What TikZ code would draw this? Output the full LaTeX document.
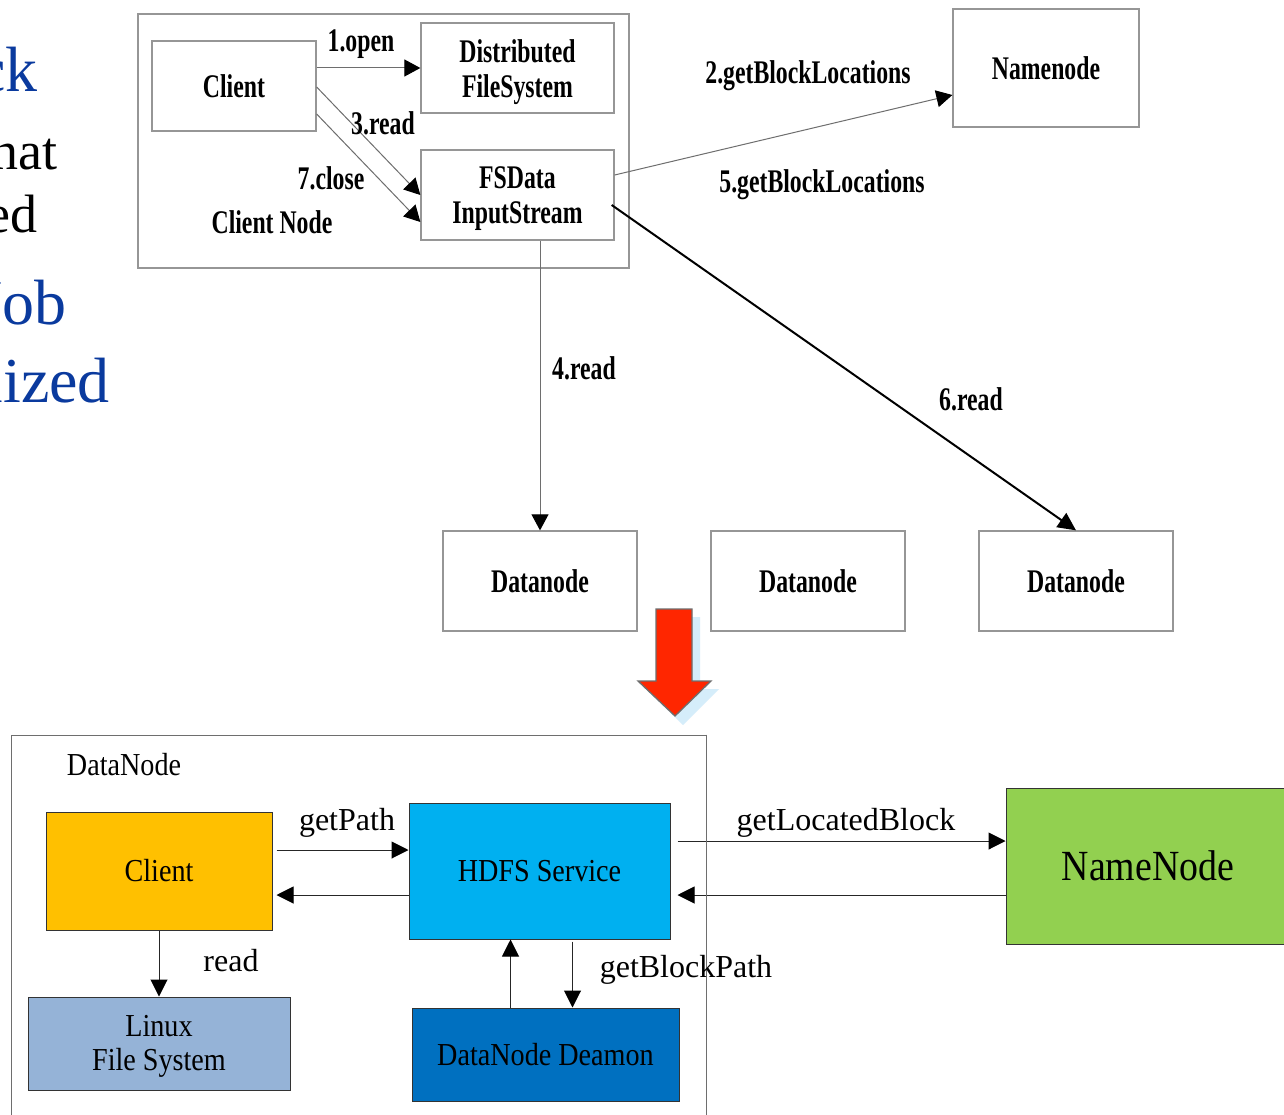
\documentclass[tikz,border=0pt]{standalone}
\usepackage{fontspec}
\setmainfont{Liberation Serif}
\newfontfamily\tfont[FakeStretch=0.72]{Liberation Serif}
\newfontfamily\bfont[FakeStretch=0.88]{Liberation Serif}
\usetikzlibrary{arrows.meta}
\definecolor{slideblue}{RGB}{10,58,158}
\definecolor{boxgray}{RGB}{150,150,150}
\definecolor{linegray}{RGB}{110,110,110}
\definecolor{cyell}{HTML}{FFC000}
\definecolor{chdfs}{HTML}{00B0F0}
\definecolor{clinux}{HTML}{95B3D7}
\definecolor{cdeamon}{HTML}{0070C0}
\definecolor{cname}{HTML}{92D050}
\definecolor{cred}{HTML}{FF2600}
\definecolor{cshadow}{HTML}{D5EDFA}
\tikzset{
  topbox/.style={draw=boxgray, line width=1.3pt, inner sep=0pt, align=center,
    font=\tfont\bfseries\fontsize{33}{35}\selectfont},
  tlbl/.style={inner sep=0pt, align=center, font=\tfont\bfseries\fontsize{33}{35}\selectfont},
  tarr/.style={draw=linegray, line width=1pt, -{Triangle[length=16pt,width=17pt,color=black]}},
  botbox/.style={draw=black!80, line width=1pt, inner sep=0pt, align=center,
    font=\bfont\fontsize{32}{34}\selectfont},
  blbl/.style={inner sep=0pt, align=center, font=\fontsize{32}{34}\selectfont},
  barr/.style={draw=black!85, line width=1pt, -{Triangle[length=17pt,width=17pt,color=black]}},
  slide/.style={inner sep=0pt, anchor=base east, font=\fontsize{64}{70}\selectfont},
  slideb/.style={inner sep=0pt, anchor=base east, font=\fontsize{54}{60}\selectfont}
}
\begin{document}
\begin{tikzpicture}[x=1pt,y=-1pt]
\clip (0,0) rectangle (1284,1115);
\fill[white] (0,0) rectangle (1284,1115);

% clipped slide text on the left
\node[slide, text=slideblue] (s1) at (38,92) {ck};
\node[slideb] (s2) at (58,170) {nat};
\node[slideb] (s3) at (38,233) {ed};
\node[slide, text=slideblue] (s4) at (67,324) {Job};
\node[slide, text=slideblue] (s5) at (110,402) {lized};

% ---------- top diagram ----------
\node[topbox, minimum width=491pt, minimum height=254pt] (cnode) at (383.5,141) {};
\node[topbox, minimum width=164pt, minimum height=90pt] (client) at (234,86) {Client};
\node[topbox, minimum width=193pt, minimum height=90pt] (dfs) at (517.5,68) {};
\node[tlbl] (dfst) at (517.5,72) {Distributed\\FileSystem};
\node[topbox, minimum width=193pt, minimum height=90pt] (fsd) at (517.5,195) {};
\node[tlbl] (fsdt) at (517.5,199) {FSData\\InputStream};
\node[tlbl] (cnlbl) at (272,222) {Client Node};
\node[topbox, minimum width=186pt, minimum height=118pt] (nn) at (1046,68) {Namenode};
\node[topbox, minimum width=194pt, minimum height=100pt] (dn1) at (540,581) {Datanode};
\node[topbox, minimum width=194pt, minimum height=100pt] (dn2) at (808,581) {Datanode};
\node[topbox, minimum width=194pt, minimum height=100pt] (dn3) at (1076,581) {Datanode};

\draw[tarr] ([yshift=18pt]client.east) -- (dfs.west);
\draw[tarr] ([yshift=-1pt]client.east) -- (fsd.west);
\draw[tarr] ([yshift=-28pt]client.east) -- ([yshift=-27pt]fsd.west);
\draw[tarr] ([yshift=20pt]fsd.east) -- ([yshift=-27pt]nn.west);
\draw[tarr] (dn1.north |- fsd.south) -- (dn1.north);
\draw[line width=2pt, -{Triangle[length=18pt,width=17pt]}] ([xshift=-3pt,yshift=-10pt]fsd.east) -- (dn3.north);

\node[tlbl] (l1) at (361,44) {1.open};
\node[tlbl] (l3) at (383,123) {3.read};
\node[tlbl] (l7) at (331,178) {7.close};
\node[tlbl] (l2) at (808,76) {2.getBlockLocations};
\node[tlbl] (l5) at (822,185) {5.getBlockLocations};
\node[tlbl] (l4) at (584,368) {4.read};
\node[tlbl] (l6) at (971,399) {6.read};

% ---------- big red arrow ----------
\fill[cshadow] (664,617) -- (700,617) -- (700,689) -- (719,689) -- (683,725) -- (646,689) -- (664,689) -- cycle;
\filldraw[fill=cred, draw=linegray, line width=1.3pt]
  (656,609) -- (692,609) -- (692,681) -- (711,681) -- (675,716) -- (638,681) -- (656,681) -- cycle;

% ---------- bottom diagram ----------
\node[draw=linegray, line width=1pt, minimum width=695pt, minimum height=390pt, inner sep=0pt] (dnode) at (358.5,930) {};
\node[blbl, font=\bfont\fontsize{32}{34}\selectfont] (dnlbl) at (124,765) {DataNode};
\node[botbox, fill=cyell, minimum width=226pt, minimum height=118pt] (cl) at (159,871) {Client};
\node[botbox, fill=chdfs, minimum width=261pt, minimum height=136pt] (hdfs) at (539.5,871) {HDFS Service};
\node[botbox, fill=clinux, minimum width=262pt, minimum height=93pt] (lfs) at (159,1043.5) {};
\node[blbl, font=\bfont\fontsize{32}{34}\selectfont] (lfst) at (159,1046.5) {Linux\\File System};
\node[botbox, fill=cdeamon, minimum width=267pt, minimum height=93pt] (dd) at (545.5,1054.5) {DataNode Deamon};
\node[botbox, fill=cname, minimum width=284pt, minimum height=156pt, font=\bfont\fontsize{43}{46}\selectfont] (nn2) at (1148,866) {NameNode};

\coordinate (c1) at ([yshift=21pt]cl.east);
\coordinate (c2) at ([yshift=-24pt]cl.east);
\draw[barr, shorten <=4pt] (c1) -- (c1 -| hdfs.west);
\draw[barr, shorten >=4pt] (c2 -| hdfs.west) -- (c2);
\draw[barr] (cl.south) -- (lfs.north);
\coordinate (c3) at ([xshift=-35pt]dd.north);
\draw[barr] (c3) -- (c3 |- hdfs.south);
\coordinate (c4) at ([xshift=33pt]hdfs.south);
\draw[barr, shorten <=2pt] (c4) -- (c4 |- dd.north);
\coordinate (c5) at ([yshift=25pt]nn2.west);
\coordinate (c6) at ([yshift=-29pt]nn2.west);
\draw[barr, shorten <=7pt] (c5 -| hdfs.east) -- (c5);
\draw[barr, shorten >=7pt] (c6) -- (c6 -| hdfs.east);
\draw[draw=linegray, line width=1pt] (dnode.north east) -- (dnode.south east);

\node[blbl] (gp) at (347,823) {getPath};
\node[blbl] (rd) at (231,961) {read};
\node[blbl] (gbp) at (686,970) {getBlockPath};
\node[blbl] (glb) at (846,823) {getLocatedBlock};
\end{tikzpicture}
\end{document}
